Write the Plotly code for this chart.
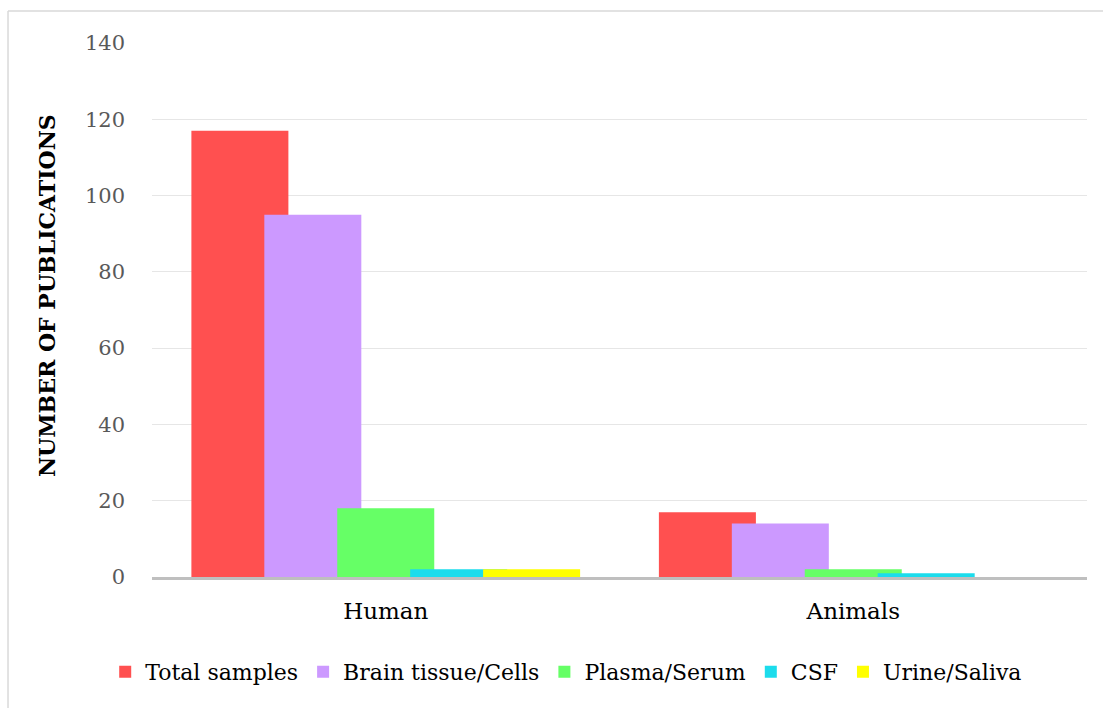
import plotly.graph_objects as go

categories = ["Human", "Animals"]
series_names = ["Total samples", "Brain tissue/Cells", "Plasma/Serum", "CSF", "Urine/Saliva"]
total_samples = [117, 17]
brain_tissue = [95, 14]
plasma_serum = [18, 2]
csf = [2, 1]
urine_saliva = [2, 0]
colors = ["#FF5050", "#CC99FF", "#66FF66", "#1CDCEC", "#FFFF00"]
y_ticks = [0, 20, 40, 60, 80, 100, 120, 140]

values = [total_samples, brain_tissue, plasma_serum, csf, urine_saliva]

# overlapping clustered bars: each bar 0.2075 of a category, stepping 0.156
bar_w = 0.2075
step = 0.156
first = -(4 * step + bar_w) / 2

fig = go.Figure()
for i, (name, vals, col) in enumerate(zip(series_names, values, colors)):
    fig.add_trace(go.Bar(
        x=categories, y=vals, name=name,
        marker=dict(color=col, line=dict(width=0)),
        width=bar_w, offset=first + i * step,
    ))

serif = "DejaVu Serif"
fig.update_layout(
    width=1103, height=708,
    barmode="overlay",
    plot_bgcolor="white", paper_bgcolor="white",
    margin=dict(l=152, r=16, t=43, b=131),
    font=dict(family=serif, color="#000000"),
    xaxis=dict(
        type="category", showgrid=False, showline=True, linecolor="#BFBFBF", linewidth=2.5,
        ticks="", tickfont=dict(size=23, family=serif, color="#000000"), ticklabelstandoff=12,
    ),
    yaxis=dict(
        range=[0, 140], tickvals=y_ticks, showgrid=True, gridcolor="#E6E6E6", gridwidth=1,
        zeroline=False, showline=False, ticks="",
        tickfont=dict(size=21, family=serif, color="#595959"), ticklabelstandoff=26,
    ),
    legend=dict(
        orientation="h", x=0.443, xanchor="center", y=-0.178, yanchor="middle",
        font=dict(size=22, family=serif, color="#000000"),
        itemsizing="constant", traceorder="normal",
    ),
    showlegend=True,
    annotations=[
        dict(text="<b>NUMBER OF PUBLICATIONS</b>", textangle=-90, xref="paper", yref="paper",
             x=-0.1123, y=0.528, xanchor="center", yanchor="middle", showarrow=False,
             font=dict(size=22, family=serif, color="#000000")),
    ],
    shapes=[
        dict(type="line", xref="paper", yref="paper", x0=-0.154, x1=-0.154, y0=1.06, y1=-0.3,
             line=dict(color="#D9D9D9", width=1.5)),
        dict(type="line", xref="paper", yref="paper", x0=-0.154, x1=1.02, y0=1.06, y1=1.06,
             line=dict(color="#D9D9D9", width=1.5)),
    ],
)

fig.write_html("out.html")
